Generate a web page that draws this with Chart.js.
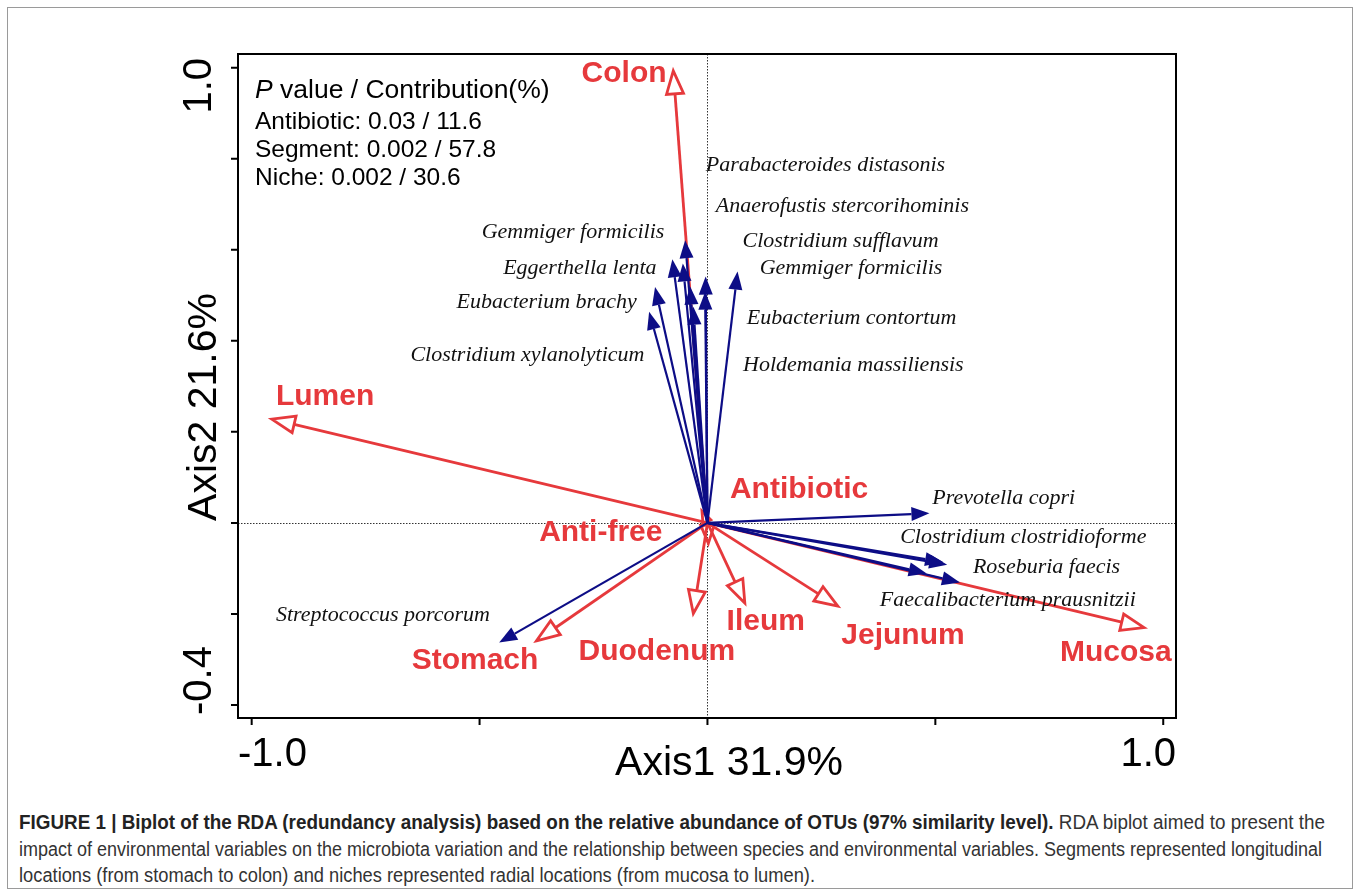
<!DOCTYPE html>
<html>
<head>
<meta charset="utf-8">
<script src="https://cdn.jsdelivr.net/npm/chart.js@4.4.1/dist/chart.umd.min.js"></script>
<style>
body { margin: 0; background: #fff; width: 1360px; height: 895px; overflow: hidden; position: relative; font-family: "Liberation Sans", Arial, sans-serif; }
#frame { position: absolute; left: 7px; top: 7px; width: 1346px; height: 882px; border: 1px solid #9a9a9a; box-sizing: border-box; }
#rda { position: absolute; left: 0; top: 0; }
#caption { position: absolute; left: 19px; top: 809px; color: #333; font-size: 20px; line-height: 26.5px; }
.cap-line { white-space: nowrap; display: block; width: max-content; transform-origin: 0 0; }
.cap-line b { color: #222; }
</style>
</head>
<body>
<div id="frame"></div>
<canvas id="rda" width="1360" height="780"></canvas>
<div id="caption">
  <span class="cap-line"><b>FIGURE 1 | Biplot of the RDA (redundancy analysis) based on the relative abundance of OTUs (97% similarity level).</b> RDA biplot aimed to present the</span>
  <span class="cap-line">impact of environmental variables on the microbiota variation and the relationship between species and environmental variables. Segments represented longitudinal</span>
  <span class="cap-line">locations (from stomach to colon) and niches represented radial locations (from mucosa to lumen).</span>
</div>
<script>
// Environmental variables (red arrows)
const envNames = ['Colon', 'Lumen', 'Antibiotic', 'Anti-free', 'Stomach', 'Duodenum', 'Ileum', 'Jejunum', 'Mucosa'];
const envAxis1 = [-0.075, -0.956, -0.012, 0.002, -0.375, -0.031, 0.082, 0.286, 0.958];
const envAxis2 = [0.993, 0.228, 0.026, -0.045, -0.259, -0.199, -0.176, -0.183, -0.230];
// where the red names sit (centre of text, axis units)
const envLabelAxis1 = [-0.183, -0.839, 0.201, -0.234, -0.510, -0.111, 0.128, 0.429, 0.896];
const envLabelAxis2 = [0.987, 0.277, 0.072, -0.022, -0.303, -0.284, -0.218, -0.248, -0.286];

// Species (blue arrows)
const spAxis1 = [-0.054, -0.004, -0.005, 0.066, -0.038, -0.031, -0.049, -0.077, -0.115, -0.128,
                 0.487, 0.517, 0.526, 0.481, 0.554, -0.457];
const spAxis2 = [0.570, 0.541, 0.508, 0.552, 0.519, 0.475, 0.621, 0.579, 0.518, 0.464,
                 0.021, -0.086, -0.092, -0.111, -0.131, -0.263];
const spNames = ['Parabacteroides distasonis', 'Anaerofustis stercorihominis', 'Clostridium sufflavum',
                 'Gemmiger formicilis', 'Eubacterium contortum', 'Holdemania massiliensis',
                 'Gemmiger formicilis', 'Eggerthella lenta', 'Eubacterium brachy', 'Clostridium xylanolyticum',
                 'Prevotella copri', 'Clostridium clostridioforme', 'Roseburia faecis',
                 'Faecalibacterium prausnitzii', 'Streptococcus porcorum'];
const spLabelAxis1 = [0.259, 0.296, 0.292, 0.315, 0.316, 0.320, -0.295, -0.280, -0.353, -0.395,
                      0.650, 0.693, 0.744, 0.659, -0.712];
const spLabelAxis2 = [0.786, 0.696, 0.619, 0.560, 0.450, 0.347, 0.639, 0.560, 0.485, 0.369,
                      0.054, -0.031, -0.097, -0.169, -0.202];

// Axes
const xTicks = [-1.0, -0.5, 0, 0.5, 1.0];
const xTickLabels = ['-1.0', '', '', '', '1.0'];
const yTicks = [-0.4, -0.2, 0, 0.2, 0.4, 0.6, 0.8, 1.0];
const yTickLabels = ['-0.4', '', '', '', '', '', '', '1.0'];
const xTitle = 'Axis1 31.9%';
const yTitle = 'Axis2 21.6%';
const statLines = ['Antibiotic: 0.03 / 11.6', 'Segment: 0.002 / 57.8', 'Niche: 0.002 / 30.6'];

const RED = '#e6393c';
const BLUE = '#0d0d86';

function drawArrow(ctx, x0, y0, x1, y1, headLen, headHalf, filled) {
    const dist = Math.hypot(x1 - x0, y1 - y0);
    const len = Math.min(headLen, dist * 0.9);
    const half = headHalf * len / headLen;
    const a = Math.atan2(y1 - y0, x1 - x0);
    const bx = x1 - len * Math.cos(a), by = y1 - len * Math.sin(a);
    ctx.beginPath();
    ctx.moveTo(x0, y0);
    ctx.lineTo(bx, by);
    ctx.stroke();
    ctx.beginPath();
    ctx.moveTo(x1, y1);
    ctx.lineTo(bx + half * Math.sin(a), by - half * Math.cos(a));
    ctx.lineTo(bx - half * Math.sin(a), by + half * Math.cos(a));
    ctx.closePath();
    if (filled) ctx.fill(); else ctx.stroke();
}

const biplot = {
    id: 'biplot',
    beforeDatasetsDraw(chart) {
        const { ctx, chartArea: a, scales: { x, y } } = chart;
        ctx.save();
        ctx.strokeStyle = '#333';
        ctx.lineWidth = 1;
        ctx.setLineDash([1.5, 1.5]);
        const px = Math.round(x.getPixelForValue(0)) + 0.5;
        const py = Math.round(y.getPixelForValue(0)) + 0.5;
        ctx.beginPath();
        ctx.moveTo(px, a.top); ctx.lineTo(px, a.bottom);
        ctx.moveTo(a.left, py); ctx.lineTo(a.right, py);
        ctx.stroke();
        ctx.restore();
    },
    afterDatasetsDraw(chart) {
        const { ctx, scales: { x, y } } = chart;
        const ox = x.getPixelForValue(0), oy = y.getPixelForValue(0);
        ctx.save();
        ctx.lineJoin = 'miter';
        // red environmental arrows (open heads)
        ctx.strokeStyle = RED;
        ctx.lineWidth = 2.8;
        chart.getDatasetMeta(0).data.forEach(p => drawArrow(ctx, ox, oy, p.x, p.y, 23, 8.5, false));
        // blue species arrows (filled heads)
        ctx.strokeStyle = BLUE;
        ctx.fillStyle = BLUE;
        ctx.lineWidth = 2.2;
        chart.getDatasetMeta(1).data.forEach(p => drawArrow(ctx, ox, oy, p.x, p.y, 18, 7, true));

        // species names
        ctx.fillStyle = '#111';
        ctx.font = 'italic 22px "Liberation Serif", "Times New Roman", serif';
        ctx.textAlign = 'center';
        ctx.textBaseline = 'middle';
        spNames.forEach((n, i) => ctx.fillText(n, x.getPixelForValue(spLabelAxis1[i]), y.getPixelForValue(spLabelAxis2[i])));
        // environmental names
        ctx.fillStyle = RED;
        ctx.font = 'bold 30px "Liberation Sans", Arial, sans-serif';
        envNames.forEach((n, i) => ctx.fillText(n, x.getPixelForValue(envLabelAxis1[i]), y.getPixelForValue(envLabelAxis2[i])));
        ctx.restore();
    },
    afterDraw(chart) {
        const { ctx, chartArea: a, scales: { x, y } } = chart;
        ctx.save();
        ctx.strokeStyle = '#000';
        ctx.fillStyle = '#000';
        ctx.lineWidth = 2;
        ctx.strokeRect(a.left, a.top, a.right - a.left, a.bottom - a.top);

        // ticks
        ctx.beginPath();
        xTicks.forEach(v => { const p = x.getPixelForValue(v); ctx.moveTo(p, a.bottom); ctx.lineTo(p, a.bottom + 7); });
        yTicks.forEach(v => { const p = y.getPixelForValue(v); ctx.moveTo(a.left, p); ctx.lineTo(a.left - 7, p); });
        ctx.stroke();

        // tick labels, pushed in to the box edges
        ctx.font = '40px "Liberation Sans", Arial, sans-serif';
        ctx.textBaseline = 'middle';
        xTickLabels.forEach((t, i) => {
            if (!t) return;
            const first = i === 0;
            ctx.textAlign = first ? 'left' : 'right';
            ctx.fillText(t, first ? a.left : a.right, a.bottom + 37);
        });
        yTickLabels.forEach((t, i) => {
            if (!t) return;
            const first = i === 0;
            ctx.save();
            ctx.translate(a.left - 38, first ? a.bottom - 3 : a.top + 4);
            ctx.rotate(-Math.PI / 2);
            ctx.textAlign = first ? 'left' : 'right';
            ctx.fillText(t, 0, 0);
            ctx.restore();
        });

        // axis titles
        ctx.font = '41px "Liberation Sans", Arial, sans-serif';
        ctx.textAlign = 'center';
        ctx.fillText(xTitle, (a.left + a.right) / 2 + 22, a.bottom + 46);
        ctx.save();
        ctx.translate(a.left - 33, (a.top + a.bottom) / 2 + 21);
        ctx.rotate(-Math.PI / 2);
        ctx.fillText(yTitle, 0, 0);
        ctx.restore();

        // P value / contribution block
        ctx.textAlign = 'left';
        const lx = a.left + 17;
        ctx.font = 'italic 26.5px "Liberation Sans", Arial, sans-serif';
        ctx.fillText('P', lx, a.top + 37);
        const pw = ctx.measureText('P').width;
        ctx.font = '26.5px "Liberation Sans", Arial, sans-serif';
        ctx.fillText(' value / Contribution(%)', lx + pw, a.top + 37);
        ctx.font = '24.5px "Liberation Sans", Arial, sans-serif';
        statLines.forEach((t, i) => ctx.fillText(t, lx, a.top + 68 + i * 28.3));
        ctx.restore();
    }
};

new Chart(document.getElementById('rda'), {
    type: 'scatter',
    data: {
        datasets: [
            {
                label: 'Environment',
                data: envAxis1.map((v, i) => ({ x: v, y: envAxis2[i] })),
                pointRadius: 0,
                pointHoverRadius: 0
            },
            {
                label: 'Species',
                data: spAxis1.map((v, i) => ({ x: v, y: spAxis2[i] })),
                pointRadius: 0,
                pointHoverRadius: 0
            }
        ]
    },
    options: {
        responsive: false,
        animation: false,
        devicePixelRatio: 1,
        layout: { padding: { left: 238, top: 54, right: 184, bottom: 62 } },
        plugins: { legend: { display: false }, tooltip: { enabled: false } },
        scales: {
            x: { type: 'linear', display: false, min: -1.030, max: 1.028 },
            y: { type: 'linear', display: false, min: -0.4286, max: 1.030 }
        }
    },
    plugins: [biplot]
});

// fit caption lines to the printed width
const capWidths = [1306, 1303, 796];
document.querySelectorAll('.cap-line').forEach((el, i) => {
    const w = el.getBoundingClientRect().width;
    el.style.transform = `scaleX(${capWidths[i] / w})`;
});
</script>
</body>
</html>
